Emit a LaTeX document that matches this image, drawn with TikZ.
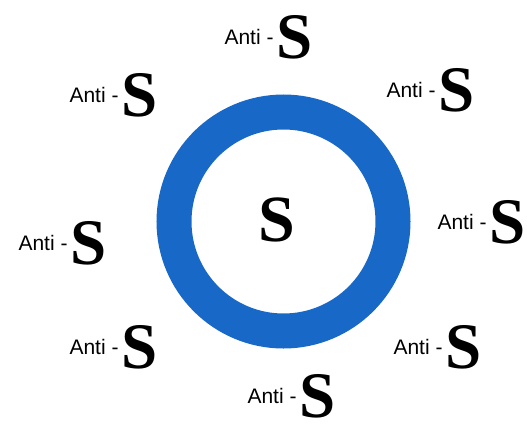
\documentclass[tikz,border=0pt]{standalone}
\usepackage{fontspec}
\setmainfont{Liberation Serif}
\newfontfamily\arial{Liberation Sans}
\usepackage{tikz}
\usetikzlibrary{positioning}
\definecolor{ringblue}{RGB}{24,104,200}

\begin{document}
\begin{tikzpicture} [x=1pt,y=-1pt, bigS/.style={inner sep=0pt, font=\fontsize{65}{70}\selectfont\bfseries}, anti/.style={inner sep=0pt, font=\arial\fontsize{21}{24}\selectfont}]
        \useasboundingbox (0,0) rectangle (527,428);
        \coordinate (c) at (283.5,221.5);
        \draw[line width=35pt, color=ringblue] (c) circle[radius=109.5pt];
        \node[inner sep=0pt, font=\fontsize{66}{72}\selectfont\bfseries] (core) at (277,220) {S};

        % outer labels
        \node[bigS] (s1) at (295,37) {S}; \node[anti, left=3pt of s1] (a1) {Anti -};
        \node[bigS] (s2) at (140,95) {S}; \node[anti, left=3pt of s2] (a2) {Anti -};
        \node[bigS] (s3) at (457,90) {S}; \node[anti, left=3pt of s3] (a3) {Anti -};
        \node[bigS] (s4) at (89,243) {S}; \node[anti, left=3pt of s4] (a4) {Anti -};
        \node[bigS] (s5) at (508,222) {S}; \node[anti, left=3pt of s5] (a5) {Anti -};
        \node[bigS] (s6) at (140,347) {S}; \node[anti, left=3pt of s6] (a6) {Anti -};
        \node[bigS] (s7) at (464,347) {S}; \node[anti, left=3pt of s7] (a7) {Anti -};
        \node[bigS] (s8) at (318,396) {S}; \node[anti, left=3pt of s8] (a8) {Anti -};
    \end{tikzpicture}
\end{document}
